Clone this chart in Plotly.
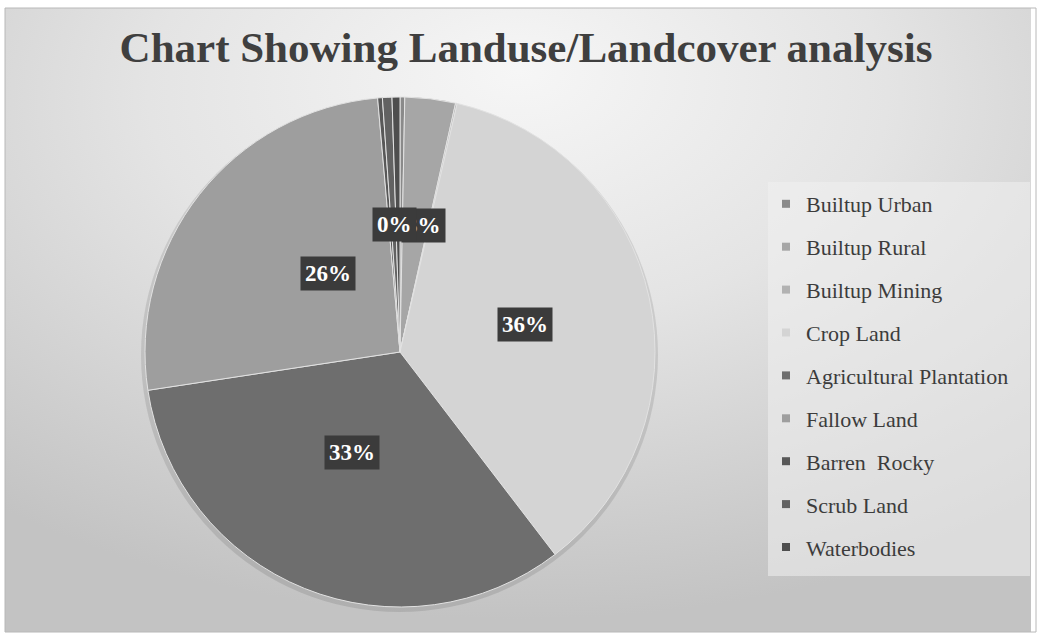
import math
import base64
import plotly.graph_objects as go

# ---------------- data ----------------
categories = ["Builtup Urban", "Builtup Rural", "Builtup Mining", "Crop Land",
              "Agricultural Plantation", "Fallow Land", "Barren  Rocky",
              "Scrub Land", "Waterbodies"]
values = [0.3, 3.2, 0.1, 36.0, 33.0, 26.0, 0.3, 0.6, 0.5]
colors = ["#8a8a8a", "#a6a6a6", "#b2b2b2", "#d4d4d4", "#6e6e6e",
          "#9e9e9e", "#585858", "#626262", "#4e4e4e"]
# slices whose percentage label is drawn (in drawing order)
labelled = ["Builtup Rural", "Waterbodies", "Crop Land",
            "Agricultural Plantation", "Fallow Land"]
label_xshift = {"Builtup Rural": 8, "Waterbodies": -3}
title_text = "Chart Showing Landuse/Landcover analysis"

# ---------------- geometry ----------------
W, H = 1038, 635
CX, CY, R = 400, 352, 255


def px_x(p):
    return p / W


def px_y(p):
    return 1 - p / H


fig = go.Figure()

# background gradient (decorative)
svg = """<svg xmlns='http://www.w3.org/2000/svg' width='1030' height='624' viewBox='0 0 1030 624'>
<defs><radialGradient id='g' cx='50%' cy='18%' r='80%' fx='50%' fy='10%'>
<stop offset='0' stop-color='#f6f6f6'/><stop offset='0.45' stop-color='#e4e4e4'/>
<stop offset='1' stop-color='#c3c3c3'/></radialGradient></defs>
<rect width='1030' height='624' fill='url(#g)'/></svg>"""
src = "data:image/svg+xml;base64," + base64.b64encode(svg.encode()).decode()

fig.add_trace(go.Pie(
    labels=categories, values=values, sort=False, direction="clockwise",
    rotation=0, marker=dict(colors=colors, line=dict(color="#e2e2e2", width=1)),
    textinfo="none", hoverinfo="label+percent", showlegend=False,
    domain=dict(x=[px_x(CX - R), px_x(CX + R)], y=[px_y(CY + R), px_y(CY - R)]),
))

# legend entries (one group each so spacing can be set)
for c, col in zip(categories, colors):
    fig.add_trace(go.Scatter(
        x=[None], y=[None], mode="markers", name=c, legendgroup=c,
        marker=dict(symbol="square", size=8, color=col), hoverinfo="skip"))

# percentage labels computed from the values
total = sum(values)
cum = 0.0
mids = {}
for c, v in zip(categories, values):
    mids[c] = (cum + v / 2) / total
    cum += v

annotations = []
for c in labelled:
    v = values[categories.index(c)]
    ang = mids[c] * 2 * math.pi
    r = 0.5 * R
    x = CX + r * math.sin(ang)
    y = CY - r * math.cos(ang)
    annotations.append(dict(
        x=px_x(x), y=px_y(y), xref="paper", yref="paper", showarrow=False,
        text=f"<b>{round(v / total * 100)}%</b>", xshift=label_xshift.get(c, 0),
        font=dict(family="Liberation Serif", size=23, color="white"),
        bgcolor="#3b3b3b", borderpad=4))

shapes = [
    dict(type="rect", xref="paper", yref="paper", x0=px_x(768), x1=px_x(1030),
         y0=px_y(576), y1=px_y(182), fillcolor="rgba(240,240,240,0.55)",
         line=dict(width=0), layer="below"),
    dict(type="rect", xref="paper", yref="paper", x0=px_x(5), x1=px_x(1036),
         y0=px_y(632), y1=px_y(8), line=dict(color="#b8b8b8", width=1),
         layer="below"),
    dict(type="circle", xref="paper", yref="paper", x0=px_x(CX - R - 4),
         x1=px_x(CX + R + 3), y0=px_y(CY + R + 5), y1=px_y(CY - R + 1),
         fillcolor="rgba(0,0,0,0.10)", line=dict(width=0), layer="below"),
]

fig.update_layout(
    width=W, height=H, margin=dict(l=0, r=0, t=0, b=0),
    paper_bgcolor="white", plot_bgcolor="rgba(0,0,0,0)",
    xaxis=dict(visible=False), yaxis=dict(visible=False),
    title=dict(text=f"<b>{title_text}</b>", x=px_x(526), y=px_y(47),
               xanchor="center", yanchor="middle",
               font=dict(family="Liberation Serif", size=43, color="#3f3f3f")),
    legend=dict(x=px_x(766), y=px_y(183), xanchor="left", yanchor="top",
                bgcolor="rgba(0,0,0,0)", tracegroupgap=11.3,
                font=dict(family="Liberation Serif", size=22, color="#3c3c3c"),
                itemclick=False, itemdoubleclick=False),
    images=[dict(source=src, xref="paper", yref="paper", x=px_x(5), y=px_y(8),
                 sizex=px_x(1031) - px_x(5), sizey=px_y(8) - px_y(632),
                 sizing="stretch", layer="below", xanchor="left", yanchor="top")],
    shapes=shapes, annotations=annotations,
)

fig.write_html("out.html")
